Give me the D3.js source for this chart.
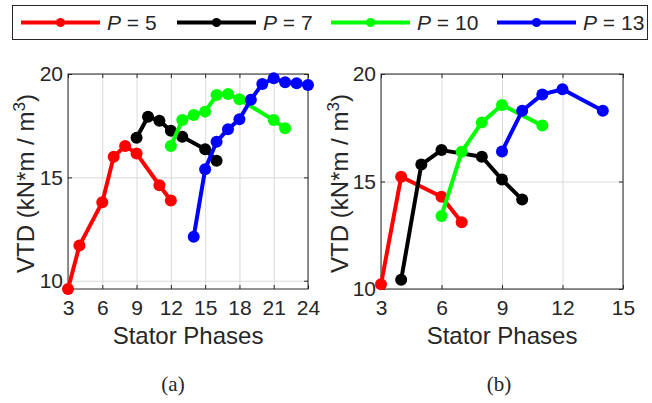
<!DOCTYPE html>
<html>
<head>
<meta charset="utf-8">
<script src="https://cdn.jsdelivr.net/npm/d3@7"></script>
<style>
  body { margin: 0; background: #fff; }
  svg { display: block; }
  text { font-family: "Liberation Sans", Arial, sans-serif; fill: #262626; }
</style>
</head>
<body>
<div id="chart"></div>
<script>
// legend / series
let pValues = [5, 7, 10, 13];
let colors = ['#ff0000', '#000000', '#00ff00', '#0000ff'];

// panel (a)
let aX5 = [3, 4, 6, 7, 8, 9, 11, 12];
let aY5 = [9.6, 11.7, 13.8, 16.0, 16.52, 16.15, 14.62, 13.88];
let aX7 = [9, 10, 11, 12, 13, 15, 16];
let aY7 = [16.92, 17.93, 17.74, 17.25, 16.97, 16.36, 15.8];
let aX10 = [12, 13, 14, 15, 16, 17, 18, 21, 22];
let aY10 = [16.52, 17.78, 18.02, 18.18, 18.98, 19.03, 18.78, 17.77, 17.37];
let aX13 = [14, 15, 16, 17, 18, 19, 20, 21, 22, 23, 24];
let aY13 = [12.13, 15.39, 16.72, 17.33, 17.81, 18.76, 19.52, 19.79, 19.6, 19.55, 19.47];
let aXTicks = [3, 6, 9, 12, 15, 18, 21, 24];
let aYTicks = [10, 15, 20];

// panel (b)
let bX5 = [3, 4, 6, 7];
let bY5 = [10.22, 15.22, 14.29, 13.1];
let bX7 = [4, 5, 6, 8, 9, 10];
let bY7 = [10.43, 15.79, 16.46, 16.15, 15.09, 14.16];
let bX10 = [6, 7, 8, 9, 11];
let bY10 = [13.4, 16.38, 17.75, 18.56, 17.6];
let bX13 = [9, 10, 11, 12, 14];
let bY13 = [16.4, 18.29, 19.05, 19.29, 18.29];
let bXTicks = [3, 6, 9, 12, 15];
let bYTicks = [10, 15, 20];

let W = 652, H = 403;
let svg = d3.select('#chart').append('svg')
    .attr('width', W)
    .attr('height', H);

function zip(xs, ys) {
    return xs.map(function (x, i) { return { x: x, y: ys[i] }; });
}

function panel(opts) {
    let left = opts.left, top = 74, w = opts.width, h = 215;
    let g = svg.append('g').attr('transform', 'translate(' + left + ',' + top + ')');

    let x = d3.scaleLinear().domain(opts.xDomain).range([0, w]);
    let y = d3.scaleLinear().domain(opts.yDomain).range([h, 0]);

    // grid
    g.append('g')
        .attr('transform', 'translate(0,' + h + ')')
        .call(d3.axisBottom(x).tickValues(opts.xTicks).tickSize(-h).tickFormat(''))
        .call(function (s) { s.select('.domain').remove(); s.selectAll('line').attr('stroke', '#dadada'); });
    g.append('g')
        .call(d3.axisLeft(y).tickValues(opts.yTicks).tickSize(-w).tickFormat(''))
        .call(function (s) { s.select('.domain').remove(); s.selectAll('line').attr('stroke', '#dadada'); });

    // axes with inward ticks
    let xa = g.append('g')
        .attr('transform', 'translate(0,' + h + ')')
        .call(d3.axisBottom(x).tickValues(opts.xTicks).tickSizeInner(-4).tickSizeOuter(0).tickPadding(11));
    let ya = g.append('g')
        .call(d3.axisLeft(y).tickValues(opts.yTicks).tickSizeInner(-4).tickSizeOuter(0).tickPadding(5));
    let xt = g.append('g')
        .call(d3.axisTop(x).tickValues(opts.xTicks).tickSizeInner(-4).tickSizeOuter(0).tickFormat(''));
    let yr = g.append('g')
        .attr('transform', 'translate(' + w + ',0)')
        .call(d3.axisRight(y).tickValues(opts.yTicks).tickSizeInner(-4).tickSizeOuter(0).tickFormat(''));
    [xa, ya, xt, yr].forEach(function (a) {
        a.selectAll('.domain').remove();
        a.selectAll('line').attr('stroke', '#262626');
        a.selectAll('text')
            .style('font-family', '"Liberation Sans", Arial, sans-serif')
            .style('font-size', '21px')
            .attr('fill', '#262626');
    });

    g.append('rect')
        .attr('width', w)
        .attr('height', h)
        .attr('fill', 'none')
        .attr('stroke', '#262626')
        .attr('stroke-width', 1);

    let line = d3.line()
        .x(function (d) { return x(d.x); })
        .y(function (d) { return y(d.y); });

    opts.series.forEach(function (s, i) {
        let data = zip(s[0], s[1]);
        g.append('path')
            .datum(data)
            .attr('fill', 'none')
            .attr('stroke', colors[i])
            .attr('stroke-width', 4)
            .attr('stroke-linejoin', 'round')
            .attr('d', line);
        g.selectAll('.pt' + i)
            .data(data)
            .enter().append('circle')
            .attr('cx', function (d) { return x(d.x); })
            .attr('cy', function (d) { return y(d.y); })
            .attr('r', 6)
            .attr('fill', colors[i]);
    });

    // labels
    let yl = svg.append('text')
        .attr('transform', 'translate(' + opts.yLabelX + ',' + (top + h / 2 + 2) + ') rotate(-90)')
        .attr('text-anchor', 'middle')
        .style('font-size', '24px');
    yl.append('tspan').text('VTD (kN*m / m');
    yl.append('tspan').attr('dy', -9).style('font-size', '17px').text('3');
    yl.append('tspan').attr('dy', 9).text(')');

    svg.append('text')
        .attr('x', left + w / 2)
        .attr('y', 344)
        .attr('text-anchor', 'middle')
        .style('font-size', '24px')
        .text('Stator Phases');

    svg.append('text')
        .attr('x', opts.tagX)
        .attr('y', 391)
        .attr('text-anchor', 'middle')
        .style('font-family', '"Liberation Serif", "Times New Roman", serif')
        .style('font-size', '21px')
        .attr('fill', '#000')
        .text(opts.tag);
}

panel({
    left: 68, width: 240,
    xDomain: [3, 24], yDomain: [9.6, 20],
    xTicks: aXTicks, yTicks: aYTicks,
    series: [[aX5, aY5], [aX7, aY7], [aX10, aY10], [aX13, aY13]],
    yLabelX: 34, tag: '(a)', tagX: 173
});

panel({
    left: 381, width: 242,
    xDomain: [3, 15], yDomain: [10, 20],
    xTicks: bXTicks, yTicks: bYTicks,
    series: [[bX5, bY5], [bX7, bY7], [bX10, bY10], [bX13, bY13]],
    yLabelX: 348, tag: '(b)', tagX: 499
});

// legend
let leg = svg.append('g');
leg.append('rect')
    .attr('x', 12.5).attr('y', 5.5)
    .attr('width', 635).attr('height', 34)
    .attr('fill', '#fff')
    .attr('stroke', '#262626')
    .attr('stroke-width', 1);

let legX = d3.scaleOrdinal().domain(pValues).range([21, 177, 331, 497]);
pValues.forEach(function (p, i) {
    let x0 = legX(p);
    leg.append('line')
        .attr('x1', x0).attr('x2', x0 + 79)
        .attr('y1', 22.5).attr('y2', 22.5)
        .attr('stroke', colors[i])
        .attr('stroke-width', 4);
    leg.append('circle')
        .attr('cx', x0 + 39.5).attr('cy', 22.5)
        .attr('r', 4.5)
        .attr('fill', colors[i]);
    let t = leg.append('text')
        .attr('x', x0 + 86)
        .attr('y', 30)
        .style('font-size', '21px');
    t.append('tspan').style('font-style', 'italic').text('P');
    t.append('tspan').text(' = ' + p);
});
</script>
</body>
</html>
